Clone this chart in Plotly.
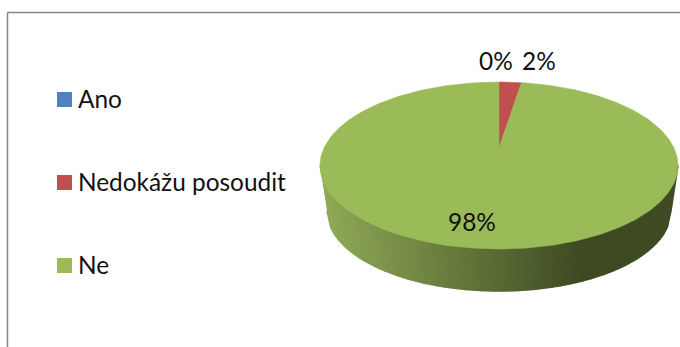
import numpy as np
import plotly.graph_objects as go

categories = ["Ano", "Nedokážu posoudit", "Ne"]
values = [0, 2, 98]
colors = ["#4F81BD", "#C0504D", "#9BBB59"]
label_text = ["0%", "2%", "98%"]

# layout geometry in pixels
CX, CY, RX, RY = 499, 165.5, 179, 83.5
APEX_Y = 148
BX, BY, BRX, BRY = 499, 211, 172, 80
W, H = 680, 347
FONT = dict(family="Lato, Open Sans, sans-serif", size=24.4, color="#111111")
label_pos = [(496, 60), (539, 60), (472, 221)]
legend_x, legend_text_x, legend_y = 64.5, 77, [99.5, 182.5, 265.5]
legend_text_dy = -1.5
SHADE_STOPS = [(320, (146, 172, 88)), (583, (61, 74, 34)), (678, (64, 76, 36))]

fig = go.Figure()


def rim(a, cx=CX, cy=CY, rx=RX, ry=RY):
    return cx + rx * np.sin(a), cy - ry * np.cos(a)


# extruded side, shaded along x; strips are even in x so the shading stays smooth
edges = np.pi + np.arcsin(np.linspace(1, -1, 91))
sx = [s[0] for s in SHADE_STOPS]
for a0, a1 in zip(edges[:-1], edges[1:]):
    xt, yt = rim(np.array([a0, a1]))
    xb, yb = rim(np.array([a1, a0]), BX, BY, BRX, BRY)
    xm = (xt.mean() + xb.mean()) / 2
    rgb = [int(np.interp(xm, sx, [s[1][i] for s in SHADE_STOPS])) for i in range(3)]
    c = f"rgb({rgb[0]},{rgb[1]},{rgb[2]})"
    fig.add_trace(go.Scatter(
        x=list(xt) + list(xb), y=list(yt) + list(yb), mode="lines", fill="toself",
        fillcolor=c, line=dict(color=c, width=1.5), showlegend=False, hoverinfo="skip"))

# top face slices from the values
total = sum(values)
start = 0.0
for name, v, col in zip(categories, values, colors):
    a = 2 * np.pi * start / total + np.linspace(0, 2 * np.pi * v / total, 361)
    start += v
    if v == 0:
        continue
    xs, ys = rim(a)
    fig.add_trace(go.Scatter(
        x=[CX] + list(xs) + [CX], y=[APEX_Y] + list(ys) + [APEX_Y], mode="lines",
        fill="toself", fillcolor=col, line=dict(color=col, width=0.5),
        name=name, showlegend=False, hoverinfo="name"))

# legend keys and labels
for name, col, ly in zip(categories, colors, legend_y):
    fig.add_trace(go.Scatter(
        x=[legend_x], y=[ly], mode="markers", name=name, showlegend=False, hoverinfo="name",
        marker=dict(symbol="square", size=15, color=col, line=dict(width=0))))
    fig.add_annotation(x=legend_text_x, y=ly + legend_text_dy, text=name, showarrow=False,
                       font=FONT, xanchor="left", borderpad=0)

for txt, (px, py) in zip(label_text, label_pos):
    fig.add_annotation(x=px, y=py, text=txt, showarrow=False, font=FONT)

# chart frame
fig.add_shape(type="line", x0=7.5, x1=7.5, y0=12.5, y1=H, line=dict(color="#868686", width=1.5))
fig.add_shape(type="line", x0=7.5, x1=W, y0=12.5, y1=12.5, line=dict(color="#868686", width=1.5))

fig.update_layout(
    width=W, height=H, margin=dict(l=0, r=0, t=0, b=0), showlegend=False,
    paper_bgcolor="white", plot_bgcolor="white",
    xaxis=dict(range=[0, W], visible=False, fixedrange=True),
    yaxis=dict(range=[H, 0], visible=False, fixedrange=True),
)
fig.write_html("out.html", config=dict(displayModeBar=False),
               post_script="document.body.style.margin='0';document.body.style.overflow='hidden';")
